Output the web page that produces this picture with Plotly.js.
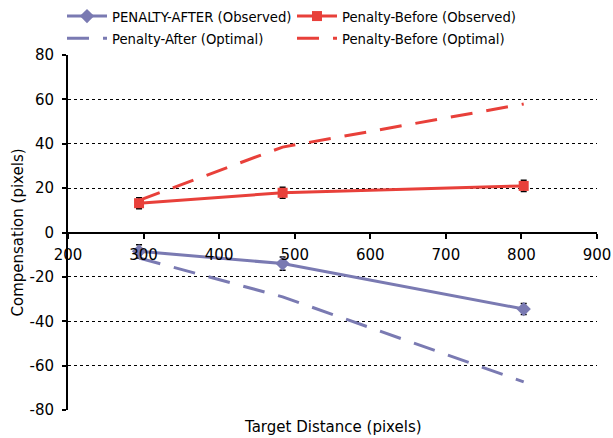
<!DOCTYPE html>
<html>
<head>
<meta charset="utf-8">
<script src="https://cdn.plot.ly/plotly-3.0.1.min.js"></script>
<style>html,body{margin:0;padding:0;background:#fff;}#chart{width:613px;height:438px;}</style>
</head>
<body>
<div id="chart"></div>
<script>
const distances = [294, 484, 803];
const afterObserved = [-8.5, -14, -34.5];
const afterObservedErr = [3, 3, 2.5];
const beforeObserved = [13.2, 17.9, 21];
const beforeObservedErr = [2.5, 2.5, 2.5];
const afterOptimal = [-11.5, -29, -67.3];
const beforeOptimal = [14.5, 38.5, 57.9];
const xTicks = [200, 300, 400, 500, 600, 700, 800, 900];
const yTicks = [-80, -60, -40, -20, 0, 20, 40, 60, 80];

const blue = 'rgb(122,122,178)';
const red = 'rgb(232,64,58)';
const legendFont = {family: 'DejaVu Sans Condensed, DejaVu Sans, sans-serif', size: 14.7, color: '#000'};
const font = {family: 'DejaVu Sans, sans-serif', size: 15, color: '#000'};

const traces = [
  {x: distances, y: afterObserved, name: 'PENALTY-AFTER (Observed)', mode: 'lines+markers',
   line: {color: blue, width: 3}, marker: {symbol: 'diamond', size: 11, color: blue},
   error_y: {type: 'data', array: afterObservedErr, visible: true, color: '#000', thickness: 1.5, width: 3}},
  {x: distances, y: beforeObserved, name: 'Penalty-Before (Observed)', mode: 'lines+markers',
   line: {color: red, width: 3}, marker: {symbol: 'square', size: 10, color: red},
   error_y: {type: 'data', array: beforeObservedErr, visible: true, color: '#000', thickness: 1.5, width: 3}},
  {x: distances, y: afterOptimal, name: 'Penalty-After (Optimal)', mode: 'lines',
   line: {color: blue, width: 3, dash: '22px,14px'}},
  {x: distances, y: beforeOptimal, name: 'Penalty-Before (Optimal)', mode: 'lines',
   line: {color: red, width: 3, dash: '22px,14px'}}
];

const layout = {
  width: 613, height: 438,
  margin: {l: 68, r: 16, t: 55, b: 28, autoexpand: false},
  paper_bgcolor: '#fff', plot_bgcolor: '#fff',
  font: font,
  showlegend: true,
  legend: {orientation: 'h', xref: 'container', yref: 'container',
           x: 62 / 613, xanchor: 'left', y: 1, yanchor: 'top',
           entrywidth: 175, entrywidthmode: 'pixels', font: legendFont,
           itemwidth: 40, bgcolor: 'rgba(0,0,0,0)'},
  xaxis: {range: [200, 900], tickvals: xTicks, ticktext: xTicks.map(String),
          anchor: 'free', position: 0.5, showgrid: false, zeroline: false,
          showline: true, linecolor: '#000', linewidth: 2,
          ticks: 'outside', ticklen: 5, tickwidth: 2, tickcolor: '#000',
          ticklabelstandoff: 3, tickfont: font, fixedrange: true},
  yaxis: {range: [-80, 80], tickvals: yTicks, ticktext: yTicks.map(String),
          showgrid: true, gridcolor: '#000', griddash: 'dot', gridwidth: 1,
          zeroline: false, showline: true, linecolor: '#000', linewidth: 2,
          ticks: 'outside', ticklen: 4, tickwidth: 2, tickcolor: '#000',
          ticklabelstandoff: 5, tickfont: font, fixedrange: true},
  annotations: [
    {text: 'Target Distance (pixels)', xref: 'paper', yref: 'paper', x: 0.5, y: -17 / 355,
     xanchor: 'center', yanchor: 'middle', showarrow: false, font: font},
    {text: 'Compensation (pixels)', xref: 'paper', yref: 'paper', x: -51 / 529, y: 0.5,
     xanchor: 'center', yanchor: 'middle', textangle: -90, showarrow: false, font: font}
  ]
};

Plotly.newPlot('chart', traces, layout, {displayModeBar: false, staticPlot: true});
</script>
</body>
</html>
